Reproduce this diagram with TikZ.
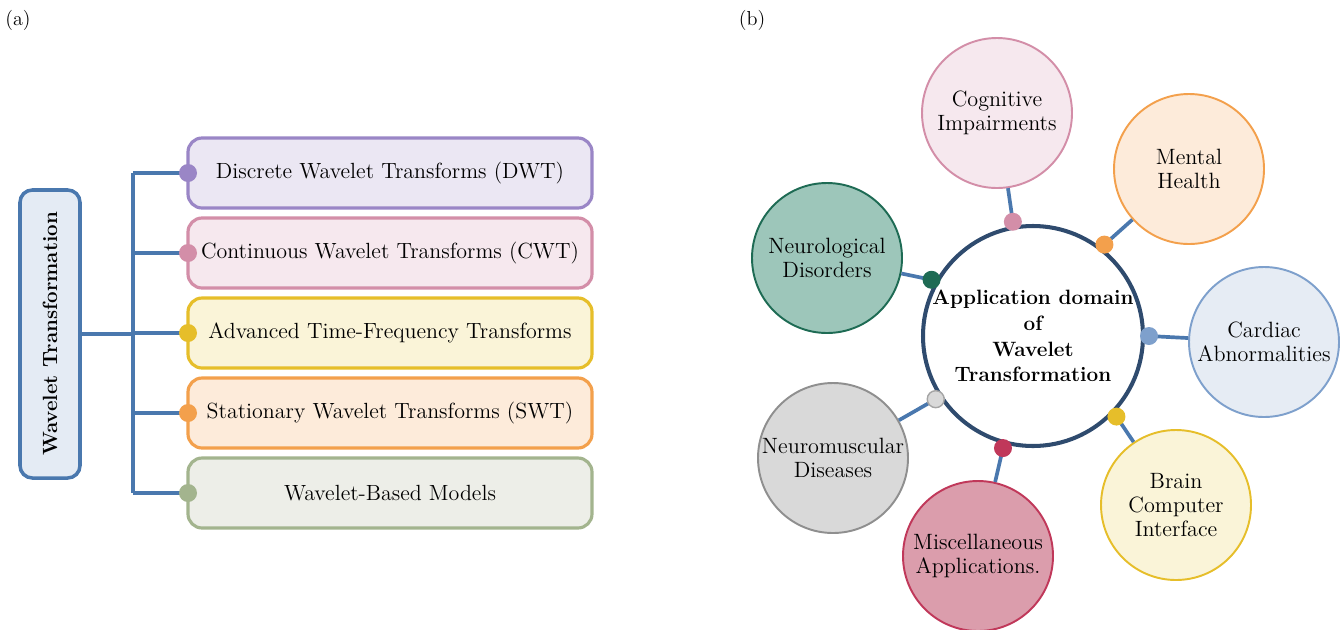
\documentclass[tikz,border=0pt]{standalone}
\usepackage{tikz}
\usetikzlibrary{positioning}

\definecolor{linkblue}{HTML}{4A78AE}
\definecolor{rootfill}{HTML}{E4EBF4}
\definecolor{hubline}{HTML}{2F4B6E}
\definecolor{dwtline}{HTML}{9A86C6}  \definecolor{dwtfill}{HTML}{EBE7F3}
\definecolor{cwtline}{HTML}{D38EA8}  \definecolor{cwtfill}{HTML}{F6E8EE}
\definecolor{tfline}{HTML}{E6BE2A}   \definecolor{tffill}{HTML}{FAF4D8}
\definecolor{swtline}{HTML}{F3A04C}  \definecolor{swtfill}{HTML}{FDEBDA}
\definecolor{wbmline}{HTML}{A3B48E}  \definecolor{wbmfill}{HTML}{EDEEE8}
\definecolor{cardline}{HTML}{7EA0CC} \definecolor{cardfill}{HTML}{E6ECF4}
\definecolor{miscline}{HTML}{C0385A} \definecolor{miscfill}{HTML}{DB9DAC}
\definecolor{nmline}{HTML}{8F8F8F}   \definecolor{nmfill}{HTML}{D9D9D9}
\definecolor{neuline}{HTML}{1E6B54}  \definecolor{neufill}{HTML}{9DC6BA}

\begin{document}
\begin{tikzpicture}[
  branch/.style={line width=2.1pt, linkblue},
  leaf/.style={draw, rounded corners=8pt, line width=1.8pt, outer sep=0pt,
    minimum width=8.08cm, minimum height=1.4cm,
    font=\fontsize{12.5}{15}\selectfont},
  bubble/.style={circle, draw, line width=1.1pt, minimum size=3cm,
    inner sep=0pt, align=center, font=\fontsize{12.6}{13.8}\selectfont},
]
\useasboundingbox (0,0) rectangle (26.88,-12.58);

  % panel labels
  \node[font=\fontsize{11.5}{13}\selectfont] (pa) at (0.36,-0.4) {(a)};
  \node[font=\fontsize{11.5}{13}\selectfont] (pb) at (15.04,-0.4) {(b)};

  % (a) tree
  \node[draw=linkblue, fill=rootfill, line width=2pt, rounded corners=7pt,
        rotate=90, minimum width=5.76cm, minimum height=1.2cm,
        font=\fontsize{11.7}{14}\selectfont\bfseries] (wt) at (1.0,-6.68)
        {Wavelet Transformation};
  \coordinate (spine) at (2.66,-6.68);

  \node[leaf, draw=dwtline, fill=dwtfill] (dwt) at (7.8,-3.46)
        {Discrete Wavelet Transforms (DWT)};
  \node[leaf, draw=cwtline, fill=cwtfill, below=0.2cm of dwt] (cwt)
        {Continuous Wavelet Transforms (CWT)};
  \node[leaf, draw=tfline, fill=tffill, below=0.2cm of cwt] (atf)
        {Advanced Time-Frequency Transforms};
  \node[leaf, draw=swtline, fill=swtfill, below=0.2cm of atf] (swt)
        {Stationary Wavelet Transforms (SWT)};
  \node[leaf, draw=wbmline, fill=wbmfill, below=0.2cm of swt] (wbm)
        {Wavelet-Based Models};

  \draw[branch] (wt.south) -- (spine);
  \draw[branch] (spine |- dwt.west) -- (spine |- wbm.west);
  \foreach \b in {dwt,cwt,atf,swt,wbm}
    \draw[branch] (spine |- \b.west) -- (\b.west);
  \fill[dwtline] (dwt.west) circle (0.18);
  \fill[cwtline] (cwt.west) circle (0.18);
  \fill[tfline]  (atf.west) circle (0.18);
  \fill[swtline] (swt.west) circle (0.18);
  \fill[wbmline] (wbm.west) circle (0.18);

  % (b) hub and bubbles
  \node[circle, draw=hubline, fill=white, line width=2.3pt, minimum size=4.4cm,
        outer sep=0.12cm] (app) at (20.66,-6.72) {};
  \node[align=center, font=\fontsize{11.8}{14.7}\selectfont\bfseries]
        (applbl) at (app) {Application domain\\of\\Wavelet\\Transformation};

  \node[bubble, draw=cwtline, fill=cwtfill] (cog) at (19.94,-2.26)
        {Cognitive\\Impairments};
  \node[bubble, draw=swtline, fill=swtfill] (mh) at (23.78,-3.38)
        {Mental\\Health};
  \node[bubble, draw=cardline, fill=cardfill] (card) at (25.28,-6.84)
        {Cardiac\\Abnormalities};
  \node[bubble, draw=tfline, fill=tffill] (bci) at (23.52,-10.1)
        {Brain\\Computer\\Interface};
  \node[bubble, draw=miscline, fill=miscfill] (misc) at (19.56,-11.12)
        {Miscellaneous\\Applications.};
  \node[bubble, draw=nmline, fill=nmfill] (nm) at (16.66,-9.16)
        {Neuromuscular\\Diseases};
  \node[bubble, draw=neuline, fill=neufill] (neu) at (16.54,-5.16)
        {Neurological\\Disorders};

  \draw[branch] (app.100) -- (cog);
  \draw[branch] (app.52) -- (mh);
  \draw[branch] (app.0) -- (card);
  \draw[branch] (app.-44) -- (bci);
  \draw[branch] (app.-105) -- (misc);
  \draw[branch] (app.-147) -- (nm);
  \draw[branch] (app.151) -- (neu);

  \fill[cwtline] (app.100) circle (0.18);
  \fill[swtline] (app.52) circle (0.18);
  \fill[cardline] (app.0) circle (0.18);
  \fill[tfline] (app.-44) circle (0.18);
  \fill[miscline] (app.-105) circle (0.18);
  \filldraw[fill=nmfill, draw=nmline!80, line width=0.8pt] (app.-147) circle (0.17);
  \fill[neuline] (app.151) circle (0.18);
\end{tikzpicture}
\end{document}
